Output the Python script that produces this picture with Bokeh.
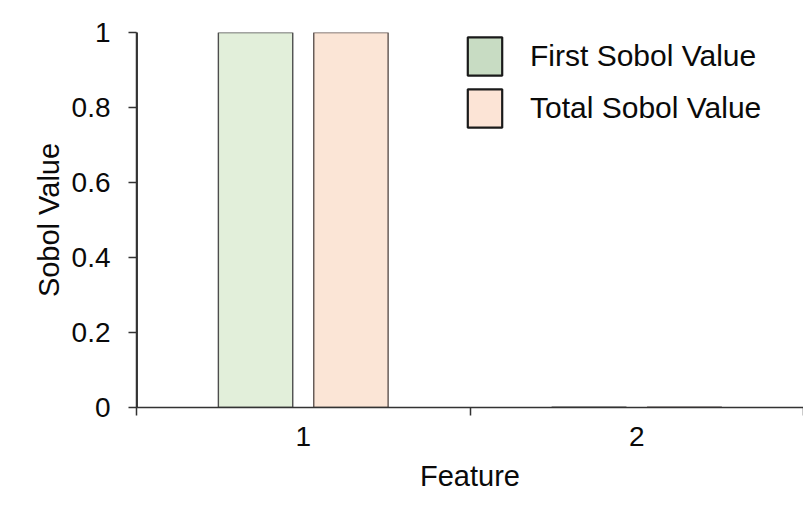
import numpy as np
from bokeh.plotting import figure
from bokeh.models import (ColumnDataSource, FixedTicker, NumeralTickFormatter,
                          Legend, LegendItem, Range1d)
from bokeh.embed import file_html
from bokeh.resources import INLINE

# ---- data ----
features = [1, 2]
feature_labels = ["1", "2"]
first_sobol = [1.0, 0.001]
total_sobol = [1.0, 0.001]
y_ticks = [0, 0.2, 0.4, 0.6, 0.8, 1.0]

FONT = "Liberation Sans"
AXIS_COLOR = "#333333"
TEXT_COLOR = "#0a0a0a"

p = figure(width=803, height=494, output_backend="svg", toolbar_location=None,
           x_range=Range1d(0.5, 2.5), y_range=Range1d(0, 1),
           min_border_left=136, min_border_right=0, min_border_top=32,
           min_border_bottom=87)
p.extra_x_ranges = {"proxy": Range1d(100, 101)}
p.outline_line_color = None
p.grid.grid_line_color = None
p.background_fill_color = "white"
p.border_fill_color = "white"

offset = 0.143
bar_w = 0.223
xs = np.array(features, dtype=float)
src = ColumnDataSource(dict(x=xs, x1=xs - offset, x2=xs + offset,
                            first=first_sobol, total=total_sobol))

p.vbar(x="x1", top="first", bottom=0, width=bar_w, source=src,
       fill_color="#e2efda", line_color="#4d4d4d", line_width=1.4)
p.vbar(x="x2", top="total", bottom=0, width=bar_w, source=src,
       fill_color="#fbe5d6", line_color="#5e5350", line_width=1.4)

# legend proxies (stronger colours, as in the reference), drawn off-range
lg1 = p.vbar(x="x", top="first", width=bar_w, source=src, x_range_name="proxy",
             fill_color="#c8dcc3", line_color="#1a1a1a", line_width=2.2)
lg2 = p.vbar(x="x", top="total", width=bar_w, source=src, x_range_name="proxy",
             fill_color="#fce4d6", line_color="#1a1a1a", line_width=2.2)

legend = Legend(items=[LegendItem(label="First Sobol Value", renderers=[lg1], index=0),
                       LegendItem(label="Total Sobol Value", renderers=[lg2], index=0)],
                location=(327, 275), orientation="vertical",
                glyph_width=43, glyph_height=48, label_height=48,
                spacing=4, padding=0, margin=0, label_standoff=24,
                border_line_color=None, background_fill_alpha=0,
                label_text_font=FONT, label_text_font_size="30px",
                label_text_color=TEXT_COLOR)
p.add_layout(legend, "center")

# y axis
ya = p.yaxis[0]
ya.ticker = FixedTicker(ticks=y_ticks, minor_ticks=[])
ya.formatter = NumeralTickFormatter(format="0.[0]")
ya.major_tick_in = 0
ya.major_tick_out = 8
ya.major_label_standoff = 18
ya.axis_line_color = AXIS_COLOR
ya.axis_line_width = 1.5
ya.major_tick_line_color = AXIS_COLOR
ya.major_tick_line_width = 1.5
ya.major_label_text_font = FONT
ya.major_label_text_font_size = "28px"
ya.major_label_text_color = TEXT_COLOR
ya.axis_label = "Sobol Value"
ya.axis_label_text_font = FONT
ya.axis_label_text_font_size = "29px"
ya.axis_label_text_font_style = "normal"
ya.axis_label_text_color = TEXT_COLOR
ya.axis_label_standoff = 4

# x axis
xa = p.xaxis[0]
xa.ticker = FixedTicker(ticks=features, minor_ticks=[0.5, 1.5, 2.5])
xa.major_label_overrides = {f: l for f, l in zip(features, feature_labels)}
xa.formatter = NumeralTickFormatter(format="0")
xa.major_tick_line_color = None
xa.major_tick_in = 0
xa.major_tick_out = 8
xa.minor_tick_in = 0
xa.minor_tick_out = 8
xa.minor_tick_line_color = AXIS_COLOR
xa.minor_tick_line_width = 1.5
xa.axis_line_color = AXIS_COLOR
xa.axis_line_width = 1.5
xa.major_label_standoff = 11
xa.major_label_text_font = FONT
xa.major_label_text_font_size = "28px"
xa.major_label_text_color = TEXT_COLOR
xa.axis_label = "Feature"
xa.axis_label_text_font = FONT
xa.axis_label_text_font_size = "29px"
xa.axis_label_text_font_style = "normal"
xa.axis_label_text_color = TEXT_COLOR
xa.axis_label_standoff = 11

open("out.html", "w").write(file_html(p, INLINE))
